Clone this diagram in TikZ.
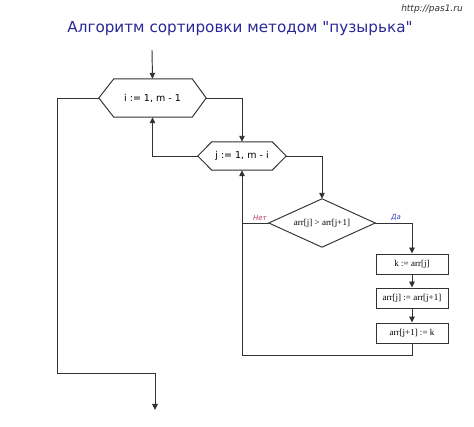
\documentclass[tikz,border=0pt]{standalone}
\usepackage{fontspec}
\setmainfont{Liberation Serif}
\newfontfamily\dvs{DejaVu Sans}
\usetikzlibrary{arrows.meta}
\definecolor{lc}{RGB}{50,50,50}
\definecolor{titleblue}{RGB}{40,40,150}
\definecolor{netred}{RGB}{190,60,90}
\definecolor{dablue}{RGB}{60,70,190}
\begin{document}
\begin{tikzpicture}[x=1pt,y=-1pt,
  line/.style={draw=lc,line width=0.95pt},
  arr/.style={line,-{Triangle[length=6pt,width=5.5pt]}},
  hexnode/.style={inner sep=0pt,minimum height=#1,font=\dvs\fontsize{9.5}{11}\selectfont},
  boxnode/.style={draw=lc,line width=0.95pt,inner sep=0pt,minimum width=72pt,minimum height=20pt,font=\fontsize{9}{10}\selectfont},
  lab/.style={font=\dvs\itshape\fontsize{7}{8}\selectfont}]
\useasboundingbox[fill=white] (0,0) rectangle (474,427);
% title and url
\node[font=\dvs\fontsize{15.2}{18}\selectfont,text=titleblue] (title) at (240,29) {Алгоритм сортировки методом "пузырька"};
\node[font=\dvs\itshape\fontsize{9}{10}\selectfont,text=black!80] (url) at (432,9) {http://pas1.ru};
% nodes
\coordinate (start) at (152,50);
\node[hexnode=38pt,minimum width=107pt] (h1) at (152.5,98) {i := 1, m - 1};
\node[hexnode=28pt,minimum width=88pt] (h2) at (242,156) {j := 1, m - i};
\node[inner sep=0pt,minimum width=106pt,minimum height=48pt,font=\fontsize{9}{10}\selectfont] (d) at (322,223) {arr[j] > arr[j+1]};
\node[boxnode] (b1) at (412,264) {k := arr[j]};
\node[boxnode] (b2) at (412,298) {arr[j] := arr[j+1]};
\node[boxnode] (b3) at (412,333) {arr[j+1] := k};
\coordinate (lb) at (57,373);
\coordinate (endc) at (155,410);
\coordinate (loopc) at (242,355);
% shapes
\draw[line] (h1.west) -- ([xshift=15pt]h1.north west) -- ([xshift=-14pt]h1.north east) -- (h1.east) -- ([xshift=-14pt]h1.south east) -- ([xshift=15pt]h1.south west) -- cycle;
\draw[line] (h2.west) -- ([xshift=14pt]h2.north west) -- ([xshift=-14pt]h2.north east) -- (h2.east) -- ([xshift=-14pt]h2.south east) -- ([xshift=14pt]h2.south west) -- cycle;
\draw[line] (d.west) -- (d.north) -- (d.east) -- (d.south) -- cycle;
% connectors
\draw[arr] (start) -- (h1.north);
\draw[arr] (h1.west) -| (lb) -| (endc);
\draw[arr] (h1.east) -| (h2.north);
\draw[arr] (h2.west) -| (h1.south);
\draw[arr] (h2.east) -| (d.north);
\draw[arr] (d.east) -| (b1.north);
\draw[line] (d.west) -- (d.west -| h2.south);
\draw[arr] (b1) -- (b2);
\draw[arr] (b2) -- (b3);
\draw[arr] (b3.south) |- (loopc) -- (h2.south);
% labels
\node[lab,text=netred] (net) at (260,218) {Нет};
\node[lab,text=dablue] (da) at (396,217) {Да};
\end{tikzpicture}
\end{document}
